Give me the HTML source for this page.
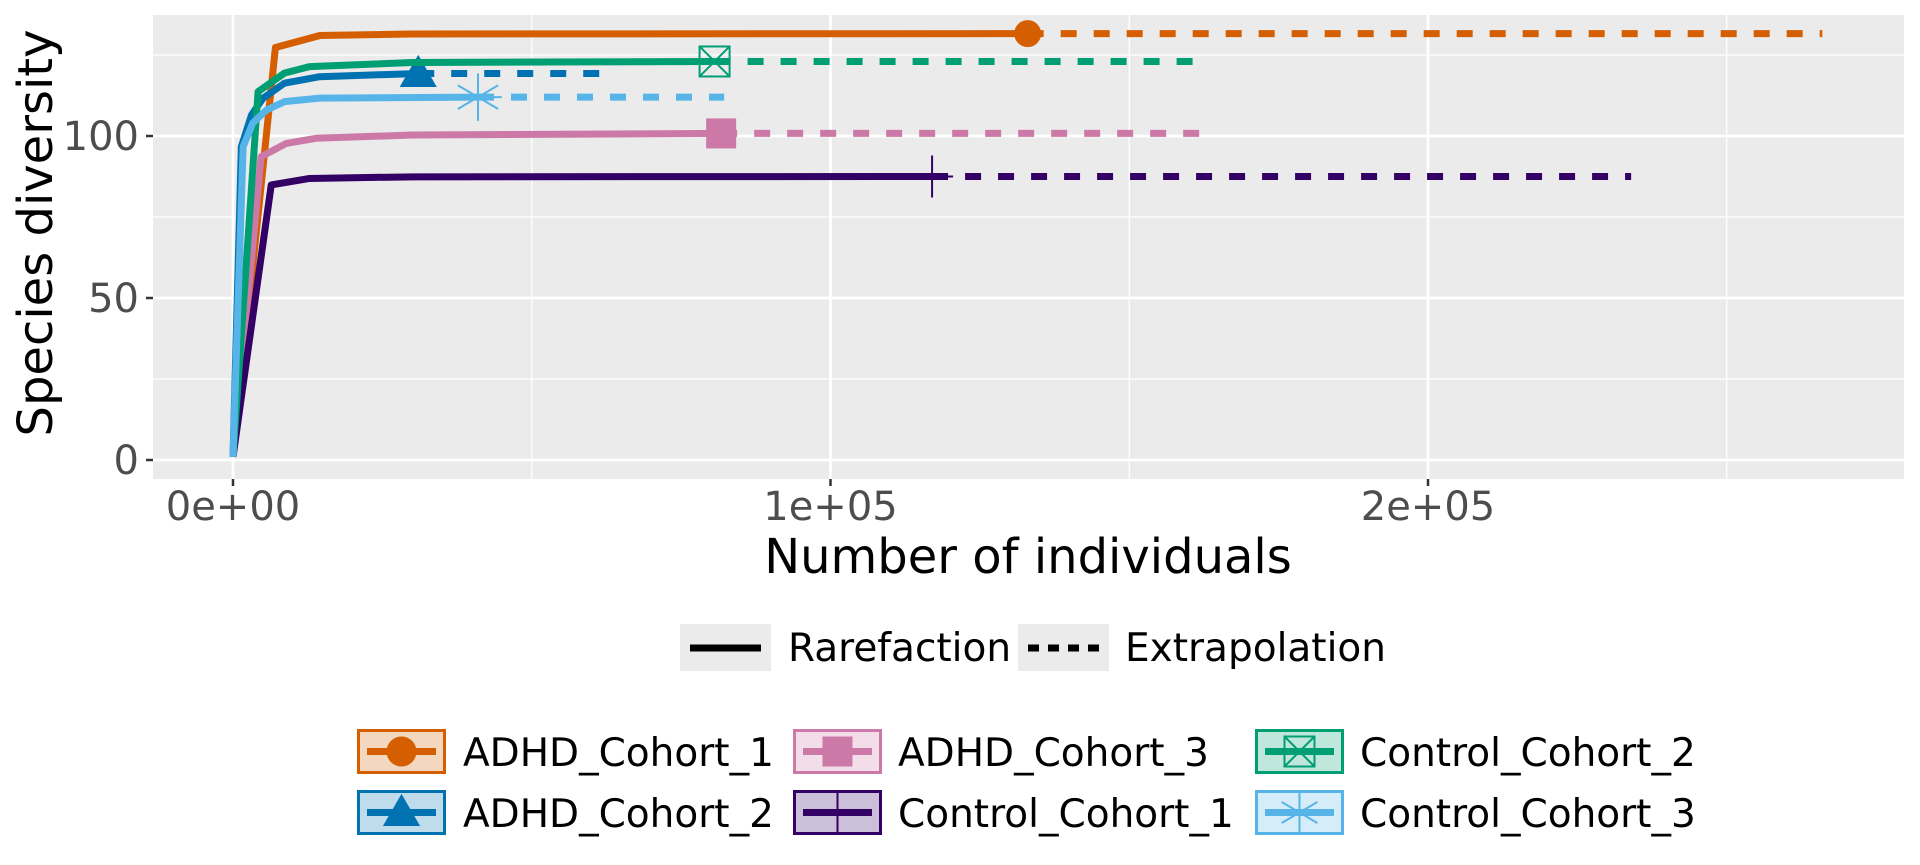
<!DOCTYPE html>
<html><head><meta charset="utf-8"><style>
body{margin:0;background:#fff;}
svg{display:block;font-family:"DejaVu Sans","Liberation Sans",sans-serif;}
</style></head><body>
<svg id="chart" width="1920" height="865" viewBox="0 0 1920 865"></svg>
<script>
// ---- data ----
const seriesNames = ["ADHD_Cohort_1","ADHD_Cohort_2","ADHD_Cohort_3","Control_Cohort_1","Control_Cohort_2","Control_Cohort_3"];
const seriesColors = ["#D55E00","#0072B2","#CC79A7","#330066","#009E73","#56B4E9"];
const seriesShapes = ["circle","triangle","square","plus","boxx","asterisk"];
const rareX1 = [0,7100,14500,30000,133000];
const rareY1 = [1,127.3,131,131.5,131.6];
const rareX2 = [0,1400,3100,5000,8600,14500,31000];
const rareY2 = [1,96.7,106.5,111.6,116.3,118.3,119.3];
const rareX3 = [0,4700,8900,13900,30000,81700];
const rareY3 = [1,93.6,97.7,99.3,100.3,100.8];
const rareX4 = [0,6400,12800,30000,117000];
const rareY4 = [1,84.9,86.9,87.4,87.5];
const rareX5 = [0,4200,8600,12800,30000,80600];
const rareY5 = [1,113.7,119.4,121.4,122.7,123];
const rareX6 = [0,1700,3300,5600,8600,14500,41000];
const rareY6 = [1,96.7,104,108,110.6,111.7,112];
const extEndX = [266000,62000,163500,234000,162000,82200];
const xTicks = [0,100000,200000];
const xTickLabels = ["0e+00","1e+05","2e+05"];
const xMinor = [50000,150000,250000];
const yTicks = [0,50,100];
const yMinor = [25,75,125];

const rareXs=[rareX1,rareX2,rareX3,rareX4,rareX5,rareX6];
const rareYs=[rareY1,rareY2,rareY3,rareY4,rareY5,rareY6];

// ---- scales ----
const P={l:153,r:1904,t:15,b:479};
const X=v=>233+v*0.005975;
const Y=v=>460-v*3.24;
const NS="http://www.w3.org/2000/svg";
const svg=document.getElementById('chart');
function mk(tag,attrs,parent){const e=document.createElementNS(NS,tag);for(const k in attrs)e.setAttribute(k,attrs[k]);(parent||svg).appendChild(e);return e;}

const panel=mk('rect',{x:P.l,y:P.t,width:P.r-P.l,height:P.b-P.t,fill:'#EBEBEB'});


const grid=mk('g',{});


xMinor.forEach(v=>mk('line',{x1:X(v),x2:X(v),y1:P.t,y2:P.b,stroke:'#fff','stroke-width':1.3},grid));
yMinor.forEach(v=>mk('line',{x1:P.l,x2:P.r,y1:Y(v),y2:Y(v),stroke:'#fff','stroke-width':1.3},grid));
xTicks.forEach(v=>mk('line',{x1:X(v),x2:X(v),y1:P.t,y2:P.b,stroke:'#fff','stroke-width':2.7},grid));
yTicks.forEach(v=>mk('line',{x1:P.l,x2:P.r,y1:Y(v),y2:Y(v),stroke:'#fff','stroke-width':2.7},grid));

const ax=mk('g',{});


xTicks.forEach((v,i)=>{
  mk('line',{x1:X(v),x2:X(v),y1:P.b,y2:P.b+7,stroke:'#333','stroke-width':2.5},ax);
  const t=mk('text',{x:X(v),y:520,'text-anchor':'middle','font-size':40,fill:'#4D4D4D'},ax);
  t.textContent=xTickLabels[i];
  
  
});
yTicks.forEach(v=>{
  mk('line',{x1:P.l-7,x2:P.l,y1:Y(v),y2:Y(v),stroke:'#333','stroke-width':2.5},ax);
  const t=mk('text',{x:139,y:Y(v)+14,'text-anchor':'end','font-size':40,fill:'#4D4D4D'},ax);
  t.textContent=String(v);
  
  
});
const xt=mk('text',{x:1028,y:573,'text-anchor':'middle','font-size':48,fill:'#000'});
xt.textContent='Number of individuals';


const yt=mk('text',{x:0,y:0,'text-anchor':'middle','font-size':48,fill:'#000',transform:'translate(52,233) rotate(-90)'});
yt.textContent='Species diversity';



function marker(shape,cx,cy,col,s,parent){
  const g=mk('g',{},parent);
  if(shape==='circle') mk('circle',{cx,cy,r:s*0.5,fill:col},g);
  else if(shape==='triangle') mk('polygon',{points:`${cx},${cy-s*0.62} ${cx-s*0.62},${cy+s*0.45} ${cx+s*0.62},${cy+s*0.45}`,fill:col},g);
  else if(shape==='square') mk('rect',{x:cx-s*0.5,y:cy-s*0.5,width:s,height:s,fill:col},g);
  else if(shape==='plus'){mk('line',{x1:cx,x2:cx,y1:cy-s*0.75,y2:cy+s*0.75,stroke:col,'stroke-width':2},g);mk('line',{x1:cx-s*0.75,x2:cx+s*0.75,y1:cy,y2:cy,stroke:col,'stroke-width':2},g);}
  else if(shape==='boxx'){const h=s*0.5;mk('rect',{x:cx-h,y:cy-h,width:s,height:s,fill:'none',stroke:col,'stroke-width':2},g);mk('path',{d:`M${cx-h},${cy-h}L${cx+h},${cy+h}M${cx+h},${cy-h}L${cx-h},${cy+h}`,stroke:col,'stroke-width':2},g);}
  else if(shape==='asterisk'){const h=s*0.7;mk('path',{d:`M${cx},${cy-h}V${cy+h}M${cx-h*0.85},${cy-h*0.5}L${cx+h*0.85},${cy+h*0.5}M${cx-h*0.85},${cy+h*0.5}L${cx+h*0.85},${cy-h*0.5}M${cx-h},${cy}H${cx+h}`,stroke:col,'stroke-width':2},g);}
  return g;
}
const markerSize=[27,30,30,28,30,34];

seriesNames.forEach((n,i)=>{
  const g=mk('g',{});
  
  
  const xs=rareXs[i],ys=rareYs[i];
  const last=ys[ys.length-1], lx=xs[xs.length-1];
  const ext=mk('line',{x1:X(lx),x2:X(extEndX[i]),y1:Y(last),y2:Y(last),stroke:seriesColors[i],'stroke-width':7,'stroke-dasharray':'16 17'},g);
  
  
  const pl=mk('polyline',{points:xs.map((x,j)=>X(x)+','+Y(ys[j])).join(' '),fill:'none',stroke:seriesColors[i],'stroke-width':7,'stroke-linejoin':'round'},g);
  
  
  const m=marker(seriesShapes[i],X(lx),Y(last),seriesColors[i],markerSize[i],g);
  
  
});

// legend 1
const lg1=mk('g',{});


[[680,'Rarefaction',null,788],[1018,'Extrapolation','11 9',1125]].forEach(d=>{
  const e=mk('g',{},lg1);
  
  
  mk('rect',{x:d[0],y:624,width:91,height:47,fill:'#EBEBEB'},e);
  const ln=mk('line',{x1:d[0]+10,x2:d[0]+81,y1:648,y2:648,stroke:'#000','stroke-width':7},e);
  if(d[2]) ln.setAttribute('stroke-dasharray',d[2]);
  const t=mk('text',{x:d[3],y:661,'font-size':39,fill:'#000'},e);
  t.textContent=d[1];
});
// legend 2
const lg2=mk('g',{});


const colX=[357,793,1255], rowY=[729,790];
const order=[0,1,2,3,4,5]; // column-major
order.forEach((si,k)=>{
  const c=Math.floor(k/2), r=k%2;
  const e=mk('g',{},lg2);
  
  
  const x=colX[c], y=rowY[r], col=seriesColors[si];
  mk('rect',{x:x+1.5,y:y+1.5,width:86,height:42,fill:col,'fill-opacity':0.25,stroke:col,'stroke-width':3},e);
  mk('line',{x1:x+10,x2:x+79,y1:y+22.5,y2:y+22.5,stroke:col,'stroke-width':7},e);
  marker(seriesShapes[si],x+44.5,y+22.5,col,si===3?28:30,e);
  const t=mk('text',{x:c===0?463:(c===1?898:1360),y:y+37,'font-size':39,fill:'#000'},e);
  t.textContent=seriesNames[si];
});
</script>
</body></html>
